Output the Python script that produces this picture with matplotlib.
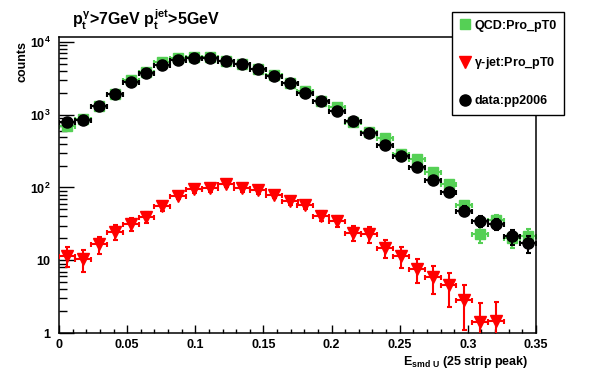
import numpy as np
import matplotlib
matplotlib.use('Agg')
import matplotlib.pyplot as plt
from matplotlib.lines import Line2D
from matplotlib.ticker import FixedLocator, MultipleLocator, LogLocator, NullFormatter

plt.rcParams['font.family'] = 'Liberation Sans'
plt.rcParams['font.weight'] = 'bold'
plt.rcParams['mathtext.fontset'] = 'custom'
plt.rcParams['mathtext.rm'] = 'Liberation Sans:bold'
plt.rcParams['mathtext.it'] = 'Liberation Sans:bold'
plt.rcParams['mathtext.bf'] = 'Liberation Sans:bold'

# bin centres of E_smd U (30 bins on 0..0.35)
e_bins = [0.00583, 0.0175, 0.02917, 0.04083, 0.0525, 0.06417, 0.07583, 0.0875,
          0.09917, 0.11083, 0.1225, 0.13417, 0.14583, 0.1575, 0.16917, 0.18083,
          0.1925, 0.20417, 0.21583, 0.2275, 0.23917, 0.25083, 0.2625, 0.27417,
          0.28583, 0.2975, 0.30917, 0.32083, 0.3325, 0.34417]
half_width = 0.35 / 30 / 2

qcd = [700, 870, 1320, 1950, 3020, 3900, 5250, 6050, 6200, 6200, 5500, 5000, 4250,
       3550, 2750, 2130, 1530, 1270, 790, 570, 478, 290, 243, 163, 110, 57, 23, 36,
       20, 21.5]
qcd_err = [25, 28, 35, 43, 54, 62, 72, 78, 79, 79, 74, 70, 65, 60, 52, 46, 39, 35,
           28, 24, 22, 17, 15, 12, 10, 7, 5.5, 6, 5.3, 5]

gjet = [11.6, 10.4, 16.6, 24.5, 31.6, 39, 55, 77, 94, 97, 112, 97, 91, 80, 66, 58,
        41, 35, 23.7, 23, 14.7, 11.4, 7.6, 5.9, 4.5, 2.8, 1.4, 1.45]
gjet_err = [3.6, 3.6, 4.4, 5.7, 6.1, 6.5, 7.5, 8.5, 9.5, 10, 10.5, 10, 9.5, 9, 8,
            7.5, 6.5, 6, 5.5, 5.7, 4, 3.6, 2.8, 2.5, 2.2, 1.7, 1.2, 1.2]

data = [788, 850, 1300, 1900, 2830, 3740, 4870, 5650, 5960, 5950, 5420, 4970, 4250,
        3370, 2700, 1980, 1520, 1120, 830, 568, 384, 268, 193, 125, 87, 48, 35, 31.6,
        21.3, 17.2]
data_err = [28, 29, 36, 44, 53, 61, 70, 75, 77, 77, 74, 70, 65, 58, 52, 44, 39, 33,
            29, 24, 20, 16, 14, 11, 9, 7, 6, 5.6, 5, 4.6]

GREEN = '#55d055'
RED = '#ff0000'

fig = plt.figure(figsize=(5.96, 3.72), dpi=100)
ax = fig.add_axes([59/596, 1 - 333/372, (536 - 59)/596, (333 - 37)/372])

ax.errorbar(e_bins, qcd, xerr=half_width, yerr=qcd_err, fmt='s', ms=7,
            color=GREEN, elinewidth=1.5, capsize=1.8, capthick=1.5, zorder=2)
ax.errorbar(e_bins[:len(gjet)], gjet, xerr=half_width, yerr=gjet_err, fmt='v', ms=8,
            color=RED, elinewidth=1.5, capsize=1.8, capthick=1.5, zorder=3)
ax.errorbar(e_bins, data, xerr=half_width, yerr=data_err, fmt='o', ms=8,
            color='black', elinewidth=1.5, capsize=1.8, capthick=1.5, zorder=4)

ax.set_yscale('log')
ax.set_xlim(0, 0.35)
ax.set_ylim(1, 1.17e4)

ax.xaxis.set_major_locator(MultipleLocator(0.05))
ax.xaxis.set_minor_locator(MultipleLocator(0.01))
ax.set_xticks([0, 0.05, 0.1, 0.15, 0.2, 0.25, 0.3, 0.35])
ax.set_xticklabels(['0', '0.05', '0.1', '0.15', '0.2', '0.25', '0.3', '0.35'])
ax.yaxis.set_major_locator(FixedLocator([1, 10, 100, 1000, 10000]))
ax.set_yticklabels(['1', '10', r'$10^{2}$', r'$10^{3}$', r'$10^{4}$'])
ax.yaxis.set_minor_locator(LogLocator(base=10, subs=np.arange(2, 10)))
ax.yaxis.set_minor_formatter(NullFormatter())

ax.tick_params(which='both', direction='in', top=False, right=False,
               labelsize=9, width=1)
ax.tick_params(axis='y', which='major', length=10.8, pad=6)
ax.tick_params(axis='y', which='minor', length=5.8)
ax.tick_params(axis='x', which='major', length=5.8, pad=4)
ax.tick_params(axis='x', which='minor', length=2.9)
for s in ax.spines.values():
    s.set_linewidth(1.1)

fig.text(72/596, 1 - 25/372, r'$p_t^{\gamma}$>7GeV $p_t^{jet}$>5GeV',
         fontsize=11.5, va='baseline', ha='left')
fig.text(22/596, 1 - 62/372, 'counts', rotation=90, ha='center', va='center',
         fontsize=9)
fig.text(528/596, 1 - 365/372, r'E$_{\mathrm{smd\ U}}$ (25 strip peak)',
         ha='right', va='baseline', fontsize=9)

handles = [Line2D([], [], ls='none', marker='s', ms=7, color=GREEN),
           Line2D([], [], ls='none', marker='v', ms=8, color=RED),
           Line2D([], [], ls='none', marker='o', ms=8, color='black')]
labels = ['QCD:Pro_pT0', r'$\gamma$-jet:Pro_pT0', 'data:pp2006']
leg = fig.legend(handles, labels, loc='upper left',
                 bbox_to_anchor=(452/596, 1 - 12/372), borderaxespad=0,
                 fontsize=9, frameon=True, fancybox=False, shadow=False,
                 handlelength=0.8, handletextpad=0.4, borderpad=0.6,
                 labelspacing=1.9)
leg.get_frame().set_edgecolor('black')
leg.get_frame().set_linewidth(1.0)
leg.get_frame().set_alpha(1)

fig.savefig('out.png', dpi=100)
